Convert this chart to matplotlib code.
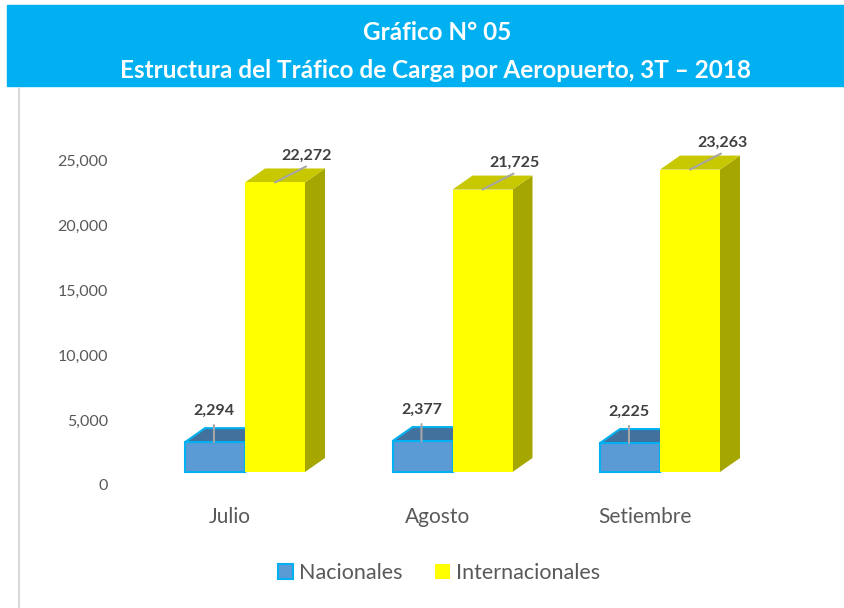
import matplotlib.pyplot as plt
from matplotlib.patches import Polygon, Rectangle
from matplotlib.lines import Line2D

meses = ["Julio", "Agosto", "Setiembre"]
nacionales = [2294, 2377, 2225]
internacionales = [22272, 21725, 23263]
yticks = [0, 5000, 10000, 15000, 20000, 25000]

titulo1 = "Gráfico N° 05"
titulo2 = "Estructura del Tráfico de Carga por Aeropuerto, 3T – 2018"

# colours
AZUL = "#5B9BD5"
AZUL_TOP = "#41719C"
CIAN = "#00B0F0"
AMARILLO = "#FFFF00"
AMARILLO_TOP = "#C8C800"
AMARILLO_SIDE = "#A6A600"
GRIS = "#595959"

plt.rcParams["font.family"] = ["Lato", "DejaVu Sans"]

W, H = 845, 608
fig = plt.figure(figsize=(W / 100, H / 100), dpi=100)

# title banner
fig.patches.append(Rectangle((7 / W, 1 - 86 / H), 1 - 7 / W, 81 / H,
                             transform=fig.transFigure, color=CIAN, zorder=0))
fig.text(437 / W, 1 - 33 / H, titulo1, color="white", fontsize=17.5, fontweight="bold",
         ha="center", va="center")
fig.text(436 / W, 1 - 71 / H, titulo2, color="white", fontsize=17.5, fontweight="bold",
         ha="center", va="center")
# chart border on the left
fig.add_artist(Line2D([19 / W, 19 / W], [0, 1 - 88 / H], transform=fig.transFigure,
                      color="#D9D9D9", lw=1.5))

# axes placed so that value 0 sits at y=485 px and 25,000 at y=161 px
px_per_val = 13 / 1000
ax_left, ax_right = 130, 780
ax_bottom, ax_top = 485, 130
ymax = (ax_bottom - ax_top) / px_per_val
ax = fig.add_axes([ax_left / W, 1 - ax_bottom / H, (ax_right - ax_left) / W,
                   (ax_bottom - ax_top) / H])
group_px = 207.5
first_center = 245
ax.set_xlim(-(first_center - ax_left) / group_px, (ax_right - first_center) / group_px)
ax.set_ylim(0, ymax)

bw = 60 / group_px
dx = 20 / group_px
dy = 14 / px_per_val
base = 13 / px_per_val  # front face floor, 3D perspective offset


def bar3d(x0, h, front, top, side, edge=None, lw=0):
    x1 = x0 + bw
    y0, y1 = base, base + h
    kw = dict(closed=True, lw=lw, ec=edge if edge else "none", joinstyle="miter")
    ax.add_patch(Polygon([(x1, y0), (x1 + dx, y0 + dy), (x1 + dx, y1 + dy), (x1, y1)],
                         fc=side, **kw))
    ax.add_patch(Polygon([(x0, y1), (x0 + dx, y1 + dy), (x1 + dx, y1 + dy), (x1, y1)],
                         fc=top, **kw))
    ax.add_patch(Polygon([(x0, y0), (x1, y0), (x1, y1), (x0, y1)], fc=front, **kw))


def etiqueta(texto, x, y, tx, ty, lx, ly):
    # leader line from the bar top, then the value label
    ax.annotate("", (x, y), xytext=(lx, ly), textcoords="offset pixels",
                arrowprops=dict(arrowstyle="-", color="#A6A6A6", lw=1.5,
                                shrinkA=0, shrinkB=0))
    ax.annotate(texto, (x, y), xytext=(tx, ty), textcoords="offset pixels",
                fontsize=11.5, fontweight="bold", color="#404040",
                ha="center", va="center")


for i in range(len(meses)):
    xb = i - bw
    bar3d(xb, nacionales[i], AZUL, AZUL_TOP, AZUL, edge=CIAN, lw=1.5)
    xa = i
    bar3d(xa, internacionales[i], AMARILLO, AMARILLO_TOP, AMARILLO_SIDE)

    etiqueta(f"{nacionales[i]:,}", xb + bw / 2 - 0.005, base + nacionales[i],
             0, 31, 0, 17)
    etiqueta(f"{internacionales[i]:,}", xa + bw / 2, base + internacionales[i],
             32, 27, 31, 16)

# category labels (shifted left by perspective)
for i, m in enumerate(meses):
    ax.text(i - 15 / group_px, -32 / px_per_val, m, ha="center", va="center",
            fontsize=15, color=GRIS)

ax.set_yticks(yticks)
ax.set_yticklabels([f"{v:,}" for v in yticks], fontsize=11.5, color=GRIS)
ax.tick_params(axis="y", length=0, pad=16)
ax.set_xticks([])
for s in ax.spines.values():
    s.set_visible(False)

# legend
handles = [Rectangle((0, 0), 1, 1, fc=AZUL, ec=CIAN, lw=1.5),
           Rectangle((0, 0), 1, 1, fc=AMARILLO, ec="none")]
fig.legend(handles, ["Nacionales", "Internacionales"], loc="center",
           bbox_to_anchor=(439 / W, 1 - 573 / H), ncol=2, frameon=False,
           fontsize=15.5, labelcolor=GRIS, handlelength=0.7, handleheight=0.7,
           handletextpad=0.3, columnspacing=1.5)

fig.savefig("out.png", dpi=100)
